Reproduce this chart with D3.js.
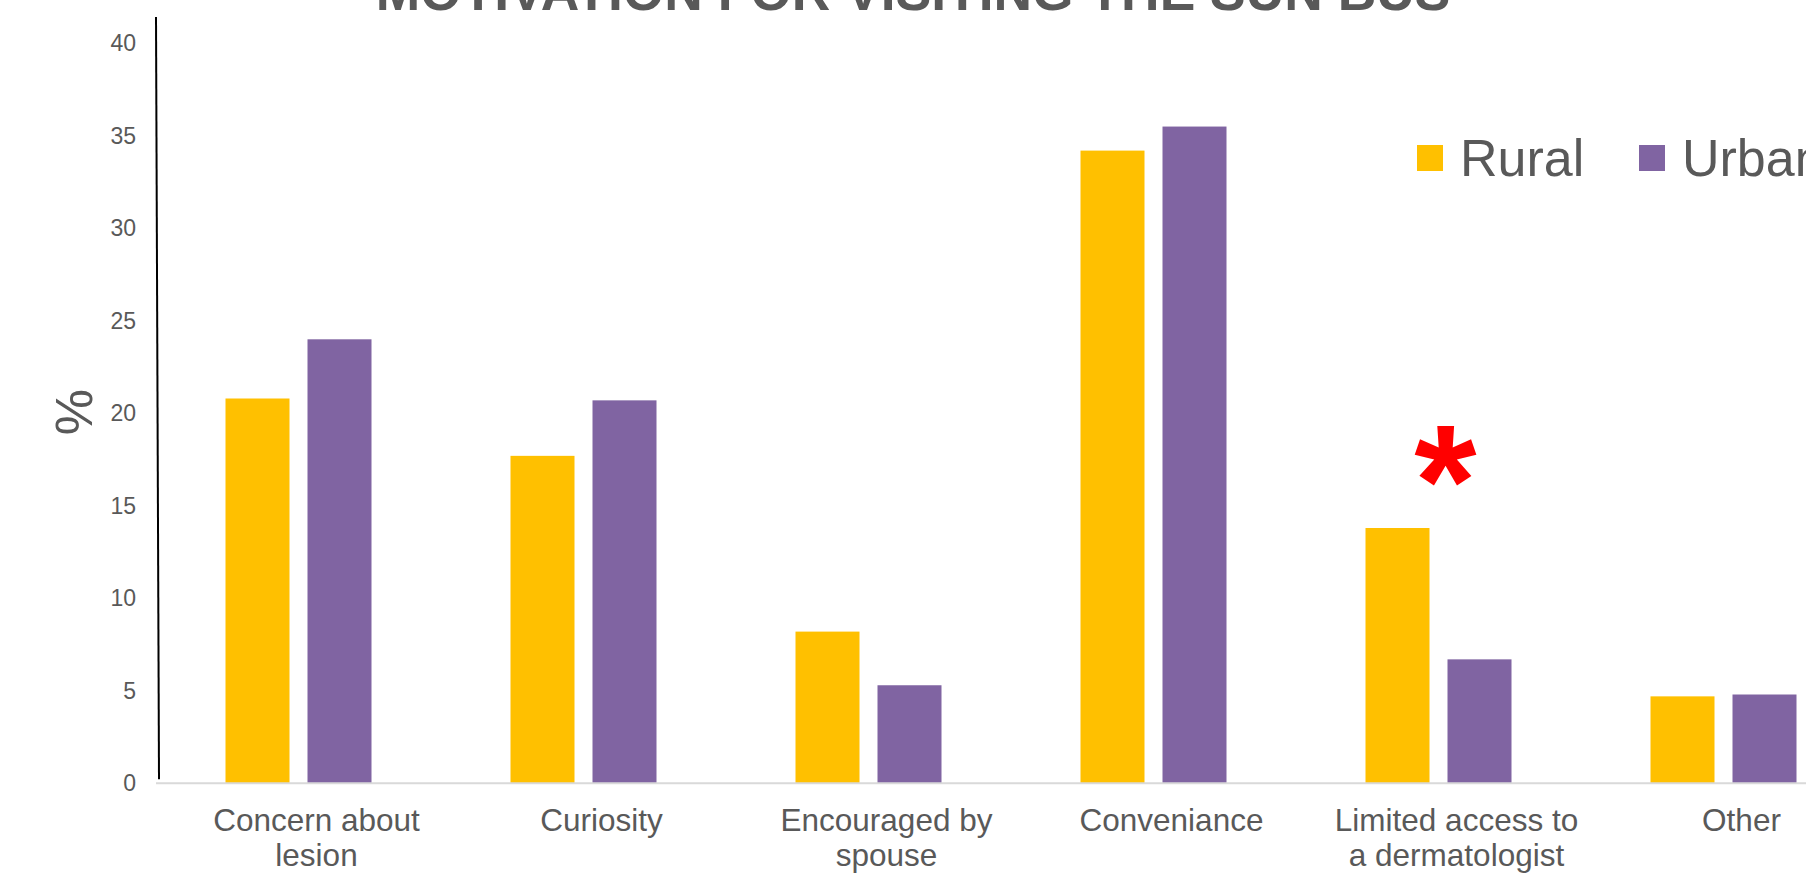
<!DOCTYPE html>
<html>
<head>
<meta charset="utf-8">
<script src="https://cdn.jsdelivr.net/npm/d3@7"></script>
<style>
  html, body { margin: 0; padding: 0; background: #ffffff; overflow: hidden; }
  svg { display: block; font-family: "Liberation Sans", Arial, sans-serif; }
</style>
</head>
<body>
<svg id="chart" width="1806" height="880"></svg>
<script>
// Motivation for visiting the sun bus, rural vs urban respondents (%)
const categories = [
  ["Concern about", "lesion"],
  ["Curiosity"],
  ["Encouraged by", "spouse"],
  ["Conveniance"],
  ["Limited access to", "a dermatologist"],
  ["Other"]
];
const seriesNames = ["Rural", "Urban"];
const ruralValues = [20.8, 17.7, 8.2, 34.2, 13.8, 4.7];
const urbanValues = [24.0, 20.7, 5.3, 35.5, 6.7, 4.8];
const yTicks = [0, 5, 10, 15, 20, 25, 30, 35, 40];
const titleText = "MOTIVATION FOR VISITING THE SUN BUS";
const yAxisTitle = "%";
const significantCategory = "Limited access to";

const colors = { Rural: "#FFC000", Urban: "#8064A2" };
const textGray = "#595959";

const svg = d3.select("#chart");

// plot area (the category axis runs past the right edge of the view)
const plotLeft = 156, bandStep = 285;
const yBottom = 783.3, yTop = 43.3;

const catKeys = categories.map(c => c[0]);
const x0 = d3.scaleBand()
  .domain(catKeys)
  .range([plotLeft, plotLeft + bandStep * catKeys.length])
  .padding(0);

const x1 = d3.scaleBand()
  .domain(seriesNames)
  .range([69.5, 215.5])
  .paddingInner(18 / 82)
  .paddingOuter(0);

const y = d3.scaleLinear().domain([0, 40]).range([yBottom, yTop]);

const rows = catKeys.map((k, i) => ({
  key: k,
  values: [
    { series: "Rural", value: ruralValues[i] },
    { series: "Urban", value: urbanValues[i] }
  ]
}));

// bars
const groups = svg.append("g").selectAll("g")
  .data(rows)
  .join("g")
  .attr("transform", d => `translate(${x0(d.key)},0)`);

groups.selectAll("rect")
  .data(d => d.values)
  .join("rect")
  .attr("x", d => x1(d.series))
  .attr("width", x1.bandwidth())
  .attr("y", d => y(d.value))
  .attr("height", d => y(0) - y(d.value))
  .attr("fill", d => colors[d.series]);

// category baseline
svg.append("line")
  .attr("x1", plotLeft).attr("x2", 1806)
  .attr("y1", y(0)).attr("y2", y(0))
  .attr("stroke", "#d9d9d9").attr("stroke-width", 2);

// value axis line
svg.append("line")
  .attr("x1", plotLeft).attr("y1", 17)
  .attr("x2", plotLeft + 3).attr("y2", y(0) - 4)
  .attr("stroke", "#000").attr("stroke-width", 2);

// value axis labels
const yAxis = svg.append("g")
  .attr("transform", `translate(${plotLeft},0)`)
  .call(d3.axisLeft(y).tickValues(yTicks).tickSize(0).tickPadding(20));
yAxis.select(".domain").remove();
yAxis.selectAll("text")
  .attr("font-size", 23)
  .attr("font-family", "Liberation Sans, Arial, sans-serif")
  .attr("fill", textGray);

// category labels
const labelOffset = 18;
const xLabels = svg.append("g").selectAll("text")
  .data(categories)
  .join("text")
  .attr("text-anchor", "middle")
  .attr("font-size", 31.5)
  .attr("fill", textGray);
xLabels.selectAll("tspan")
  .data(d => d.map((line, j) => ({ line, j, key: d[0] })))
  .join("tspan")
  .attr("x", d => x0(d.key) + bandStep / 2 + labelOffset)
  .attr("y", d => 831 + d.j * 34.5)
  .text(d => d.line);

// title (partly above the top edge)
svg.append("text")
  .attr("x", 913).attr("y", 10)
  .attr("text-anchor", "middle")
  .attr("font-size", 53.4)
  .attr("font-weight", "bold")
  .attr("fill", textGray)
  .text(titleText);

// value axis title
svg.append("text")
  .attr("transform", "translate(92,412) rotate(-90)")
  .attr("text-anchor", "middle")
  .attr("font-size", 52)
  .attr("fill", textGray)
  .text(yAxisTitle);

// legend
const legendX = [1417, 1639];
const legend = svg.append("g").selectAll("g")
  .data(seriesNames)
  .join("g")
  .attr("transform", (d, i) => `translate(${legendX[i]},145)`);
legend.append("rect")
  .attr("width", 26).attr("height", 26)
  .attr("fill", d => colors[d]);
legend.append("text")
  .attr("x", 43).attr("y", 30.7)
  .attr("font-size", 52)
  .attr("fill", textGray)
  .text(d => d);

// significance marker
svg.append("text")
  .attr("x", x0(significantCategory) + x1("Rural") + x1.bandwidth() + 16)
  .attr("y", 536)
  .attr("text-anchor", "middle")
  .attr("font-size", 160)
  .attr("font-weight", "bold")
  .attr("fill", "#ff0000")
  .text("*");
</script>
</body>
</html>
